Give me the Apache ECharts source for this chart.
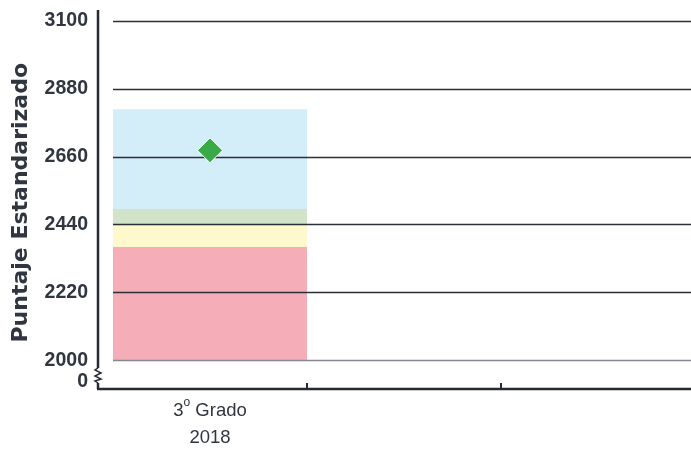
<!DOCTYPE html>
<html>
<head>
<meta charset="utf-8">
<script src="https://cdn.jsdelivr.net/npm/echarts@6/dist/echarts.min.js"></script>
<style>
  html, body { margin: 0; padding: 0; background: #fff; }
  #main { width: 691px; height: 449px; }
</style>
</head>
<body>
<div id="main"></div>
<script>
// categorias del eje x
var categorias = ['3{sup|o} Grado\n2018', '', ''];
// cortes de los niveles (limite superior de cada banda)
var cortes = [2368, 2440, 2491, 2814];
var colores = ['#f5aeb8', '#fef9cd', '#d1e3c8', '#d3edf9'];
// puntaje obtenido
var puntaje = [2681];
// ticks del eje y
var yMin = 2000, yMax = 3100, yPaso = 220;

var txt = '#2f3640';
var chart = echarts.init(document.getElementById('main'));

var bandas = cortes.map(function (c, i) {
  var v = i === 0 ? c : c - cortes[i - 1];
  return {
    type: 'bar',
    stack: 'niveles',
    barWidth: '100%',
    itemStyle: { color: colores[i] },
    silent: true,
    z: 1,
    data: [v, '-', '-']
  };
});

var option = {
  animation: false,
  grid: { left: 113, top: 21, width: 582, height: 339.5, outerBoundsMode: 'none', containLabel: false },
  xAxis: {
    type: 'category',
    data: categorias,
    boundaryGap: true,
    offset: 28.5,
    axisLine: { show: false },
    axisTick: {
      show: true, inside: true, length: 6,
      interval: function (i) { return i !== 0; },
      lineStyle: { color: '#262b33', width: 2 }
    },
    axisLabel: {
      margin: 8,
      color: txt,
      fontFamily: 'Liberation Sans',
      fontSize: 18.5,
      lineHeight: 27,
      rich: {
        sup: { fontSize: 12, verticalAlign: 'top', padding: [0, 0, 9, 0], color: txt, fontFamily: 'Liberation Sans', lineHeight: 27 }
      }
    },
    splitLine: { show: false }
  },
  yAxis: {
    type: 'value',
    min: yMin, max: yMax, interval: yPaso,
    z: 3,
    name: 'Puntaje Estandarizado',
    nameLocation: 'middle',
    nameGap: 81,
    nameTextStyle: { color: txt, fontFamily: 'DejaVu Sans', fontWeight: 'bold', fontSize: 22, padding: [0, 24, 0, 0] },
    axisLine: { show: false },
    axisTick: { show: false },
    axisLabel: {
      margin: 25,
      color: txt,
      fontFamily: 'Liberation Sans',
      fontWeight: 'bold',
      fontSize: 19.5,
      formatter: function (v) { return String(v); }
    },
    splitLine: {
      show: true,
      lineStyle: { color: ['#85898f', '#2b2f36', '#2b2f36', '#2b2f36', '#2b2f36', '#2b2f36'], width: 1.3 }
    }
  },
  series: bandas.concat([{
    type: 'scatter',
    symbol: 'diamond',
    symbolSize: [25, 25],
    itemStyle: { color: '#39aa47', borderColor: '#ffffff', borderWidth: 1, opacity: 1 },
    z: 5,
    data: [puntaje[0], '-', '-']
  }])
};
chart.setOption(option);

// marco de ejes con corte en el eje y
var x0 = 98, yBase = 389, yTop = 10;
chart.setOption({
  graphic: [
    { type: 'line', shape: { x1: x0, y1: yTop, x2: x0, y2: 368 }, style: { stroke: '#262b33', lineWidth: 2.5 } },
    { type: 'polyline', shape: { points: [[x0, 368], [95, 370], [101, 373], [95, 376], [101, 379], [95, 381], [x0, 383]] }, style: { stroke: '#262b33', lineWidth: 1.5, fill: null } },
    { type: 'line', shape: { x1: x0, y1: 383, x2: x0, y2: yBase }, style: { stroke: '#262b33', lineWidth: 2.5 } },
    { type: 'line', shape: { x1: x0 - 1, y1: yBase, x2: 691, y2: yBase }, style: { stroke: '#262b33', lineWidth: 2.5 } },
    { type: 'text', x: 88, y: 382, style: { text: '0', fill: txt, font: 'bold 19.5px "Liberation Sans"', align: 'right', verticalAlign: 'middle' } }
  ]
});
</script>
</body>
</html>
